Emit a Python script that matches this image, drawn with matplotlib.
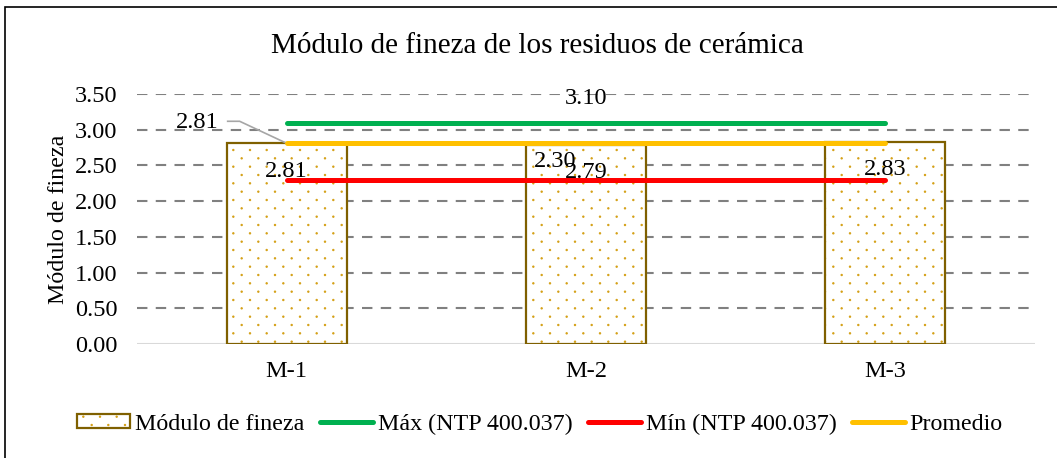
import matplotlib
matplotlib.use("Agg")
import numpy as np
import matplotlib.pyplot as plt
import matplotlib.hatch as mhatch
from matplotlib.path import Path
from matplotlib.patches import Rectangle
from matplotlib.lines import Line2D
from matplotlib.legend_handler import HandlerPatch

categories = ["M-1", "M-2", "M-3"]
modulo = [2.81, 2.79, 2.83]
maximo = [3.10, 3.10, 3.10]
minimo = [2.30, 2.30, 2.30]
promedio = [2.81, 2.81, 2.81]
yticks = [0.0, 0.5, 1.0, 1.5, 2.0, 2.5, 3.0, 3.5]


# custom staggered dot hatch (replaces the '.' hatch)
class StaggeredDots(mhatch.HatchPatternBase):
    def __init__(self, hatch, density):
        circ = Path.unit_circle()
        self.shape_vertices = circ.vertices
        self.shape_codes = circ.codes.copy()
        pts = []
        if hatch.count('.') > 0:
            ncol, nrow = 6, 12
            for r in range(nrow + 1):
                yy = r / nrow
                if r % 2 == 0:
                    xs = np.linspace(0, 1, ncol + 1)
                else:
                    xs = np.arange(ncol) / ncol + 0.5 / ncol
                for xx in xs:
                    pts.append((xx, yy))
        self.pts = pts
        self.num_shapes = len(pts)
        self.num_vertices = self.num_shapes * len(self.shape_vertices)

    def set_vertices_and_codes(self, vertices, codes):
        sv = self.shape_vertices * 0.007
        n = len(sv)
        for i, (px, py) in enumerate(self.pts):
            vertices[i * n:(i + 1) * n] = sv + (px, py)
            codes[i * n:(i + 1) * n] = self.shape_codes


mhatch._hatch_types = [StaggeredDots if t is mhatch.SmallFilledCircles else t
                       for t in mhatch._hatch_types]

plt.rcParams['font.family'] = ['Liberation Serif', 'DejaVu Serif']
plt.rcParams['hatch.linewidth'] = 0.7
FS = 17.6
FL = 17.3
DOT = '#D4A017'
EDGE = '#7F6000'

fig = plt.figure(figsize=(10.57, 4.58), dpi=100)
ax = fig.add_axes([137/1057, 1-344/458, (1035-137)/1057, (344-94)/458])

x = list(range(len(categories)))
ax.set_ylim(0, 3.5)
ax.set_xlim(-0.5, 2.5)
ax.set_yticks(yticks)
ax.set_yticklabels([f"{v:.2f}" for v in yticks], fontsize=FS)
ax.set_xticks(x)
ax.set_xticklabels(categories, fontsize=FS)
ax.tick_params(axis='both', length=0)
ax.tick_params(axis='y', pad=14)
ax.tick_params(axis='x', pad=12)
for s in ax.spines.values():
    s.set_visible(False)
for v in yticks[1:]:
    ax.axhline(v, color='#808080', lw=1.5, ls=(0, (5, 4)), zorder=0)
ax.axhline(0, color='#D9D9D9', lw=1.5, zorder=0.5)

# bars: hatch layer + outline layer
ax.bar(x, modulo, width=0.4, facecolor='white', edgecolor=DOT, hatch='.', linewidth=0, zorder=1)
ax.bar(x, modulo, width=0.4, fill=False, edgecolor=EDGE, linewidth=1.6, zorder=1.5)

LW = 3.6
ax.plot(x, maximo, color='#00B050', lw=LW, solid_capstyle='round', zorder=3)
ax.plot(x, minimo, color='#FF0000', lw=LW, solid_capstyle='round', zorder=3)
ax.plot(x, promedio, color='#FFC000', lw=LW, solid_capstyle='round', zorder=3)

# bar value labels
for xi, v in zip(x, modulo):
    ax.annotate(f"{v:.2f}", (xi, v), xytext=(0, -28), textcoords='offset pixels',
                ha='center', va='center', fontsize=FS, zorder=4)
# line labels
ax.annotate(f"{maximo[1]:.2f}", (1, maximo[1]), xytext=(0, 24), textcoords='offset pixels',
            ha='center', va='center', fontsize=FS, zorder=4)
ax.annotate(f"{minimo[1]:.2f}", (1, minimo[1]), xytext=(-31, 18), textcoords='offset pixels',
            ha='center', va='center', fontsize=FS, zorder=4)
ax.annotate(f"{promedio[0]:.2f}", (0, promedio[0]), xytext=(-89, 21), textcoords='offset pixels',
            ha='center', va='center', fontsize=FS, zorder=4)
# leader line
p0 = ax.transData.transform((0, promedio[0]))
pts = [(p0[0]-59, p0[1]+22), (p0[0]-47, p0[1]+22), (p0[0], p0[1])]
inv = ax.transData.inverted()
dpts = [inv.transform(p) for p in pts]
ax.plot([p[0] for p in dpts], [p[1] for p in dpts], color='#A6A6A6', lw=1.2, zorder=2, clip_on=False)

ax.set_ylabel("Módulo de fineza", fontsize=FL, labelpad=4)
fig.text(537/1057, 1-46/458, "Módulo de fineza de los residuos de cerámica",
         ha='center', va='center', fontsize=21)


# legend
class HatchHandler(HandlerPatch):
    def create_artists(self, legend, orig_handle, xdescent, ydescent, width, height, fontsize, trans):
        r1 = Rectangle((-xdescent, -ydescent), width, height, facecolor='white', edgecolor=DOT,
                       hatch='.', linewidth=0, transform=trans)
        r2 = Rectangle((-xdescent, -ydescent), width, height, fill=False, edgecolor=EDGE,
                       linewidth=1.6, transform=trans)
        return [r1, r2]


h_bar = Rectangle((0, 0), 1, 1)
h_max = Line2D([], [], color='#00B050', lw=LW, solid_capstyle='round')
h_min = Line2D([], [], color='#FF0000', lw=LW, solid_capstyle='round')
h_avg = Line2D([], [], color='#FFC000', lw=LW, solid_capstyle='round')
leg = fig.legend([h_bar, h_max, h_min, h_avg],
                 ["Módulo de fineza", "Máx (NTP 400.037)", "Mín (NTP 400.037)", "Promedio"],
                 handler_map={Rectangle: HatchHandler()},
                 loc='center', bbox_to_anchor=(540/1057, 1-424/458), ncol=4, frameon=False,
                 fontsize=FL, handlelength=2.2, handleheight=0.55, handletextpad=0.2,
                 columnspacing=0.65, borderpad=0)

# outer border
fig.patches.append(Rectangle((5/1057, -0.05), 1.1, 1-7/458+0.05, transform=fig.transFigure,
                             fill=False, edgecolor='black', lw=1.2))

fig.savefig("out.png", dpi=100)
